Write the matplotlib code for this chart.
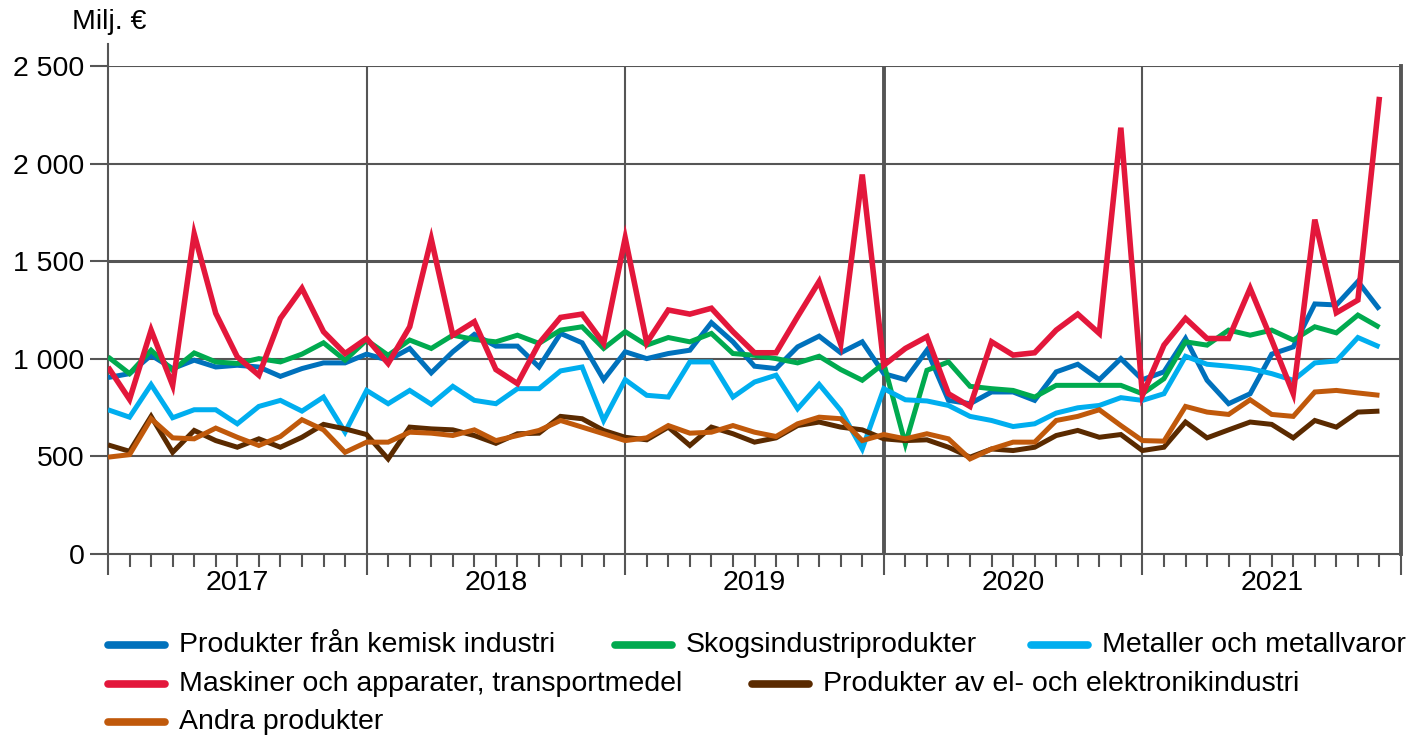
import numpy as np
import matplotlib.pyplot as plt
from matplotlib.lines import Line2D

plt.rcParams['font.family'] = ['Liberation Sans', 'DejaVu Sans']

# monthly values, Jan 2017 - Dec 2021, million euro
years = ['2017', '2018', '2019', '2020', '2021']

kemisk = [904, 924, 1018, 950, 993, 958, 967, 958, 910, 950, 979, 979,
          1024, 993, 1053, 928, 1036, 1125, 1065, 1065, 958, 1130, 1082, 893,
          1036, 1001, 1027, 1044, 1185, 1087, 962, 950, 1061, 1116, 1031, 1087,
          924, 893, 1044, 787, 770, 830, 830, 787, 933, 972, 893, 1001,
          893, 933, 1104, 890, 770, 821, 1024, 1061, 1281, 1276, 1396, 1253]

skog = [1010, 924, 1044, 941, 1030, 984, 976, 1001, 984, 1024, 1082, 993,
        1096, 1018, 1096, 1053, 1121, 1099, 1087, 1121, 1079, 1147, 1164, 1053,
        1139, 1070, 1109, 1087, 1130, 1027, 1018, 1001, 979, 1013, 945, 890,
        976, 564, 941, 984, 859, 847, 838, 804, 864, 864, 864, 864,
        821, 898, 1087, 1070, 1147, 1121, 1147, 1096, 1164, 1133, 1224, 1161]

metall = [739, 701, 868, 698, 739, 739, 667, 756, 787, 732, 804, 624,
          838, 770, 838, 767, 859, 787, 770, 847, 847, 938, 958, 684,
          893, 813, 804, 984, 984, 804, 881, 916, 744, 869, 736, 538,
          847, 790, 784, 761, 705, 684, 653, 667, 722, 749, 761, 801,
          787, 821, 1013, 972, 962, 950, 924, 890, 979, 989, 1109, 1061]

maskiner = [958, 792, 1147, 864, 1640, 1233, 1010, 916, 1207, 1361, 1139, 1027,
            1104, 976, 1164, 1614, 1121, 1190, 945, 873, 1079, 1212, 1229, 1079,
            1619, 1082, 1250, 1229, 1259, 1139, 1031, 1031, 1216, 1396, 1075, 1944,
            967, 1053, 1113, 821, 756, 1087, 1019, 1031, 1147, 1229, 1130, 2184,
            813, 1070, 1207, 1104, 1104, 1361, 1096, 821, 1713, 1236, 1301, 2342]

elektro = [559, 526, 705, 521, 633, 581, 547, 590, 547, 598, 664, 641,
           612, 487, 650, 641, 636, 607, 567, 616, 619, 705, 693, 633,
           598, 585, 650, 556, 650, 616, 573, 595, 658, 676, 650, 636,
           590, 581, 585, 547, 496, 538, 530, 547, 607, 633, 598, 612,
           530, 547, 676, 595, 636, 676, 664, 595, 684, 650, 727, 732]

andra = [496, 509, 693, 595, 590, 645, 598, 556, 602, 688, 636, 521,
         573, 573, 624, 619, 607, 636, 581, 607, 633, 684, 650, 616,
         581, 595, 658, 619, 624, 658, 624, 602, 667, 701, 693, 581,
         612, 590, 616, 590, 487, 538, 573, 573, 684, 705, 739, 658,
         581, 578, 756, 727, 715, 790, 715, 705, 830, 838, 825, 813]

labels = ['Produkter från kemisk industri', 'Skogsindustriprodukter',
          'Metaller och metallvaror', 'Maskiner och apparater, transportmedel',
          'Produkter av el- och elektronikindustri', 'Andra produkter']
colors = ['#0071BC', '#00AA4F', '#00AEEF', '#E3173B', '#5A2A00', '#C0590B']
series = [kemisk, skog, metall, maskiner, elektro, andra]

fs = 20.5
W, H = 1414, 738
fig = plt.figure(figsize=(W/100, H/100), dpi=100)
ax = fig.add_axes([108/W, 1-554/H, 1293/W, (554-66)/H])

months = np.arange(len(kemisk))
ax.set_xlim(0, 60)
ax.set_ylim(0, 2500)

grid_c = '#555555'
# horizontal grid, 1500 drawn a bit heavier like in the original
for v in [500, 1000, 1500, 2000, 2500]:
    ax.axhline(v, color=grid_c, lw=2.2 if v == 1500 else 1.5, zorder=1)
# year boundaries, 2020 heavier
for i in range(1, 5):
    ax.axvline(12*i, color=grid_c, lw=2.8 if i == 3 else 1.5, zorder=1)

for s, c in zip(series, colors):
    ax.plot(months, s, color=c, lw=4.0 if c == '#E3173B' else 3.6,
            solid_joinstyle='miter', solid_capstyle='butt', zorder=3)

ax.spines['top'].set_visible(False)
for side in ['left', 'bottom', 'right']:
    ax.spines[side].set_color(grid_c)
    ax.spines[side].set_linewidth(1.5)
ax.spines['right'].set_linewidth(2.8)
# left axis line pokes a little above the top
ax.plot([0, 0], [1, 1.045], transform=ax.transAxes, color=grid_c, lw=1.5,
        clip_on=False)

ax.set_yticks([0, 500, 1000, 1500, 2000, 2500])
ax.set_yticklabels(['0', '500', '1 000', '1 500', '2 000', '2 500'])
ax.tick_params(axis='y', length=13, width=1.5, color=grid_c, pad=4,
               labelsize=fs)

# year ticks long, month ticks short, year labels in the middle
ax.set_xticks(np.arange(0, 61, 12))
ax.set_xticklabels([])
ax.set_xticks(np.arange(0, 60), minor=True)
ax.tick_params(axis='x', which='major', length=15, width=1.5, color=grid_c)
ax.tick_params(axis='x', which='minor', length=9, width=1.5, color=grid_c)
for i, yr in enumerate(years):
    ax.text(12*i + 6, -150, yr, ha='center', va='center', fontsize=fs)

fig.text(72/W, 1-22/H, 'Milj. €', ha='left', va='center', fontsize=fs)

# legend laid out by hand: (row y, handle x) in pixels
leg_pos = [(645, 108), (645, 615), (645, 1031),
           (684, 108), (684, 752), (722, 108)]
for (py, px), lab, c in zip(leg_pos, labels, colors):
    fig.add_artist(Line2D([px/W, (px+57)/W], [1-py/H, 1-py/H], color=c,
                          lw=5.5, solid_capstyle='round'))
    fig.text((px+71)/W, 1-py/H, lab, ha='left', va='center', fontsize=fs)

fig.savefig('out.png', dpi=100)
